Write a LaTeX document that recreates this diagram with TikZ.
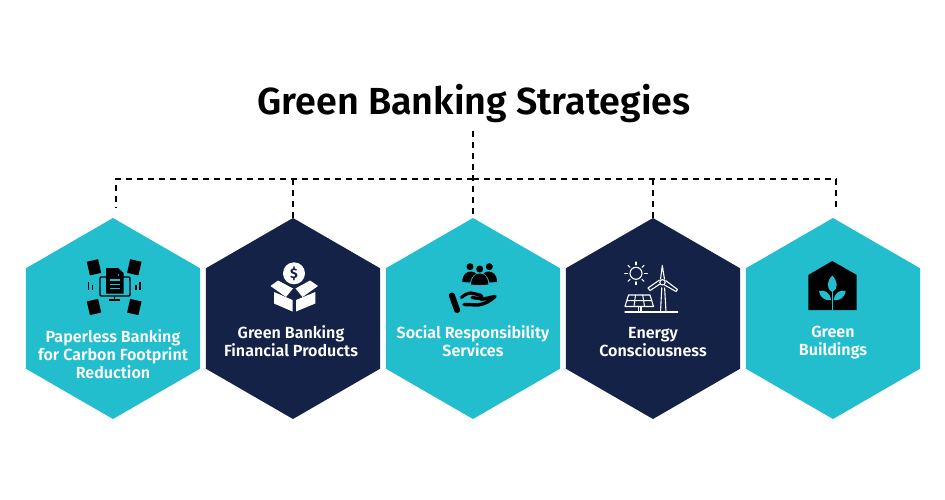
\documentclass[tikz,border=0pt]{standalone}
\usepackage{fontspec}
\setmainfont{Fira Sans}
\newfontfamily\semib{Fira Sans SemiBold}
\usetikzlibrary{shapes.geometric}
\definecolor{tealc}{HTML}{22BECE}
\definecolor{navyc}{HTML}{142248}
\tikzset{
  x=1pt,y=-1pt,
  hexa/.style={regular polygon,regular polygon sides=6,shape border rotate=30,minimum size=201pt,inner sep=0pt,outer sep=0pt,draw=none},
  label/.style={text=white,font=\fontsize{16.1}{18}\selectfont\semib,align=center,inner sep=0pt},
  link/.style={black,line width=1.6pt,dash pattern=on 6pt off 5pt},
}
\begin{document}
\begin{tikzpicture}
\useasboundingbox (0,0) rectangle (945,500);
\fill[white] (0,0) rectangle (945,500);
\node[inner sep=0pt,font=\fontsize{37.7}{40}\selectfont\semib] (title) at (474,104) {Green Banking Strategies};
\node[hexa,fill=tealc] (h1) at (113,318.5) {};
\node[hexa,fill=navyc] (h2) at (293,318.5) {};
\node[hexa,fill=tealc] (h3) at (473,318.5) {};
\node[hexa,fill=navyc] (h4) at (653,318.5) {};
\node[hexa,fill=tealc] (h5) at (833,318.5) {};
\node[label] (t1) at (113,353.7) {Paperless Banking\\for Carbon Footprint\\Reduction};
\node[label] (t2) at (291,340.7) {Green Banking\\Financial Products};
\node[label] (t3) at (473,340.7) {Social Responsibility\\Services};
\node[label] (t4) at (653,341.7) {Energy\\Consciousness};
\node[label] (t5) at (833,342.7) {Green\\Buildings};
% connectors
\coordinate (top) at (473,131);
\coordinate (bus) at (473,179);
\coordinate (c1) at (116,179);
\coordinate (c5) at (836,179);
\coordinate (d1) at (116,208);
\coordinate (d5) at (836,208);
\coordinate (c2) at (293,179);
\coordinate (c4) at (653,179);
\draw[link] (top) -- (h3.corner 1);
\draw[link] (bus) -- (c1) -- (d1);
\draw[link] (bus) -- (c5) -- (d5);
\draw[link] (c2) -- (h2.corner 1);
\draw[link] (c4) -- (h4.corner 1);
% icon 1
\foreach \px/\py/\r in {94/267.3/13,134.3/267.3/-13,94/307/13,134.3/307/-13}
  \fill[black,rotate around={\r:(\px,\py)}] (\px-5.8,\py-7) rectangle (\px+5.8,\py+7);
\draw[black,line width=1.4pt,rounded corners=1pt] (106,277) -- (100,277) -- (100,296) -- (130,296) -- (130,277) -- (123,277);
\draw[black,line width=1.4pt] (114.5,296) -- (114.5,299) (109,300) -- (120,300);
\fill[black] (106,268) -- (118,268) -- (123.5,273) -- (123.5,293.5) -- (106,293.5) -- cycle;
\fill[tealc] (118.5,275) circle (0.9);
\draw[tealc,line width=1.3pt] (109.5,280) -- (120,280) (109.5,284.3) -- (120,284.3) (109.5,288.4) -- (120,288.4);
\draw[black,line width=1.1pt] (88.5,281.5) -- (88.5,290) (92.5,284.5) -- (92.5,289.5) (136,284.5) -- (136,289.5) (140,281.5) -- (140,290);
% icon 2
\fill[white] (294,273.3) circle (11);
\node[inner sep=0pt,text=navyc,font=\fontsize{14}{14}\selectfont\bfseries] (dollar) at (294,273.5) {\$};
\fill[white] (274,292) -- (292.5,300) -- (292.5,311.5) -- (274,303.5) -- cycle;
\fill[white] (296,300) -- (315.3,292) -- (315.3,303.5) -- (296,311.5) -- cycle;
\fill[white] (270.5,286) -- (278,280.5) -- (293,288.5) -- (286,297) -- cycle;
\fill[white] (295.5,288.5) -- (310,280.5) -- (318,286) -- (302.5,297) -- cycle;
% icon 3
\fill[black] (470,266.7) circle (3.5) (479.7,269) circle (3.5) (489.3,266.7) circle (3.5);
\fill[black] (462.3,282) .. controls (462.3,274) and (467,271.5) .. (471,271.5) .. controls (473.5,271.5) and (475,272.5) .. (476,273.5) .. controls (472,276) and (470.5,279) .. (470,282.5) -- cycle;
\fill[black] (497,282) .. controls (497,274) and (492.5,271.5) .. (488.5,271.5) .. controls (486,271.5) and (484.5,272.5) .. (483.5,273.5) .. controls (487.5,276) and (489,279) .. (489.5,282.5) -- cycle;
\fill[black] (471,284.5) .. controls (471.5,277) and (475,273.5) .. (479.7,273.5) .. controls (484.5,273.5) and (488,277) .. (488.3,284.5) .. controls (483,285.2) and (476,285.2) .. (471,284.5) -- cycle;
\draw[black,line width=6pt,line cap=round] (451.9,295.5) -- (457.1,310);
\draw[black,line width=3.2pt,line cap=round,line join=round] (461.5,297.5) .. controls (464,295) and (468,293) .. (471,293) -- (480,295) .. controls (483,296.5) and (482,298.5) .. (479,298.5) -- (472,297.5);
\draw[black,line width=3.4pt,line cap=round,line join=round] (481,299.5) -- (495,296.5) .. controls (490,301) and (485,304) .. (478,305) -- (464,304.5);
% icon 4
\draw[white,line width=1.1pt] (636,273.3) circle (6);
\foreach \a in {0,45,...,315}
  \draw[white,line width=1.1pt,line cap=round] (636,273.3) ++(\a:8.5) -- ++(\a:2.8);
\draw[white,line width=1.1pt,line join=round] (628.5,295) -- (650,295) -- (653.5,306.5) -- (625,306.5) -- cycle;
\draw[white,line width=1pt] (627,300.5) -- (652,300.5) (635.5,295) -- (634,306.5) (642.7,295) -- (644.5,306.5);
\draw[white,line width=1.1pt] (638.5,306.5) -- (638.5,312) (641,306.5) -- (641,312);
\draw[white,line width=1.3pt,line cap=round] (625,312) -- (677.7,312);
\draw[white,line width=1.1pt,line join=round] (660.5,312) -- (661.8,287.5) (664.6,287.5) -- (666,312);
\draw[white,line width=1.1pt] (662.5,282.3) circle (2.7);
\draw[white,line width=1.1pt,line join=round] (660.5,279.5) -- (662.3,265.5) -- (664.5,279.5);
\draw[white,line width=1.1pt,line join=round] (660,284) -- (650,290.5) -- (648,288) -- (659.5,280);
\draw[white,line width=1.1pt,line join=round] (665.5,280.5) -- (677.5,289.5) -- (676,291.5) -- (664.5,285);
% icon 5
\fill[black] (808.3,275) -- (832.3,261) -- (856.7,275) -- (856.7,310) -- (808.3,310) -- cycle;
\draw[tealc,line width=1.3pt] (832.3,290) -- (832.3,310);
\fill[tealc] (832.3,275.5) .. controls (827,281) and (825.5,288) .. (832.3,292) .. controls (839,288) and (837.5,281) .. (832.3,275.5) -- cycle;
\fill[tealc] (819,291) .. controls (824,289.5) and (830,292) .. (831,300) .. controls (824,301) and (820,297) .. (819,291) -- cycle;
\fill[tealc] (845.7,291) .. controls (840.7,289.5) and (834.7,292) .. (833.7,300) .. controls (840.7,301) and (844.7,297) .. (845.7,291) -- cycle;
\end{tikzpicture}
\end{document}
